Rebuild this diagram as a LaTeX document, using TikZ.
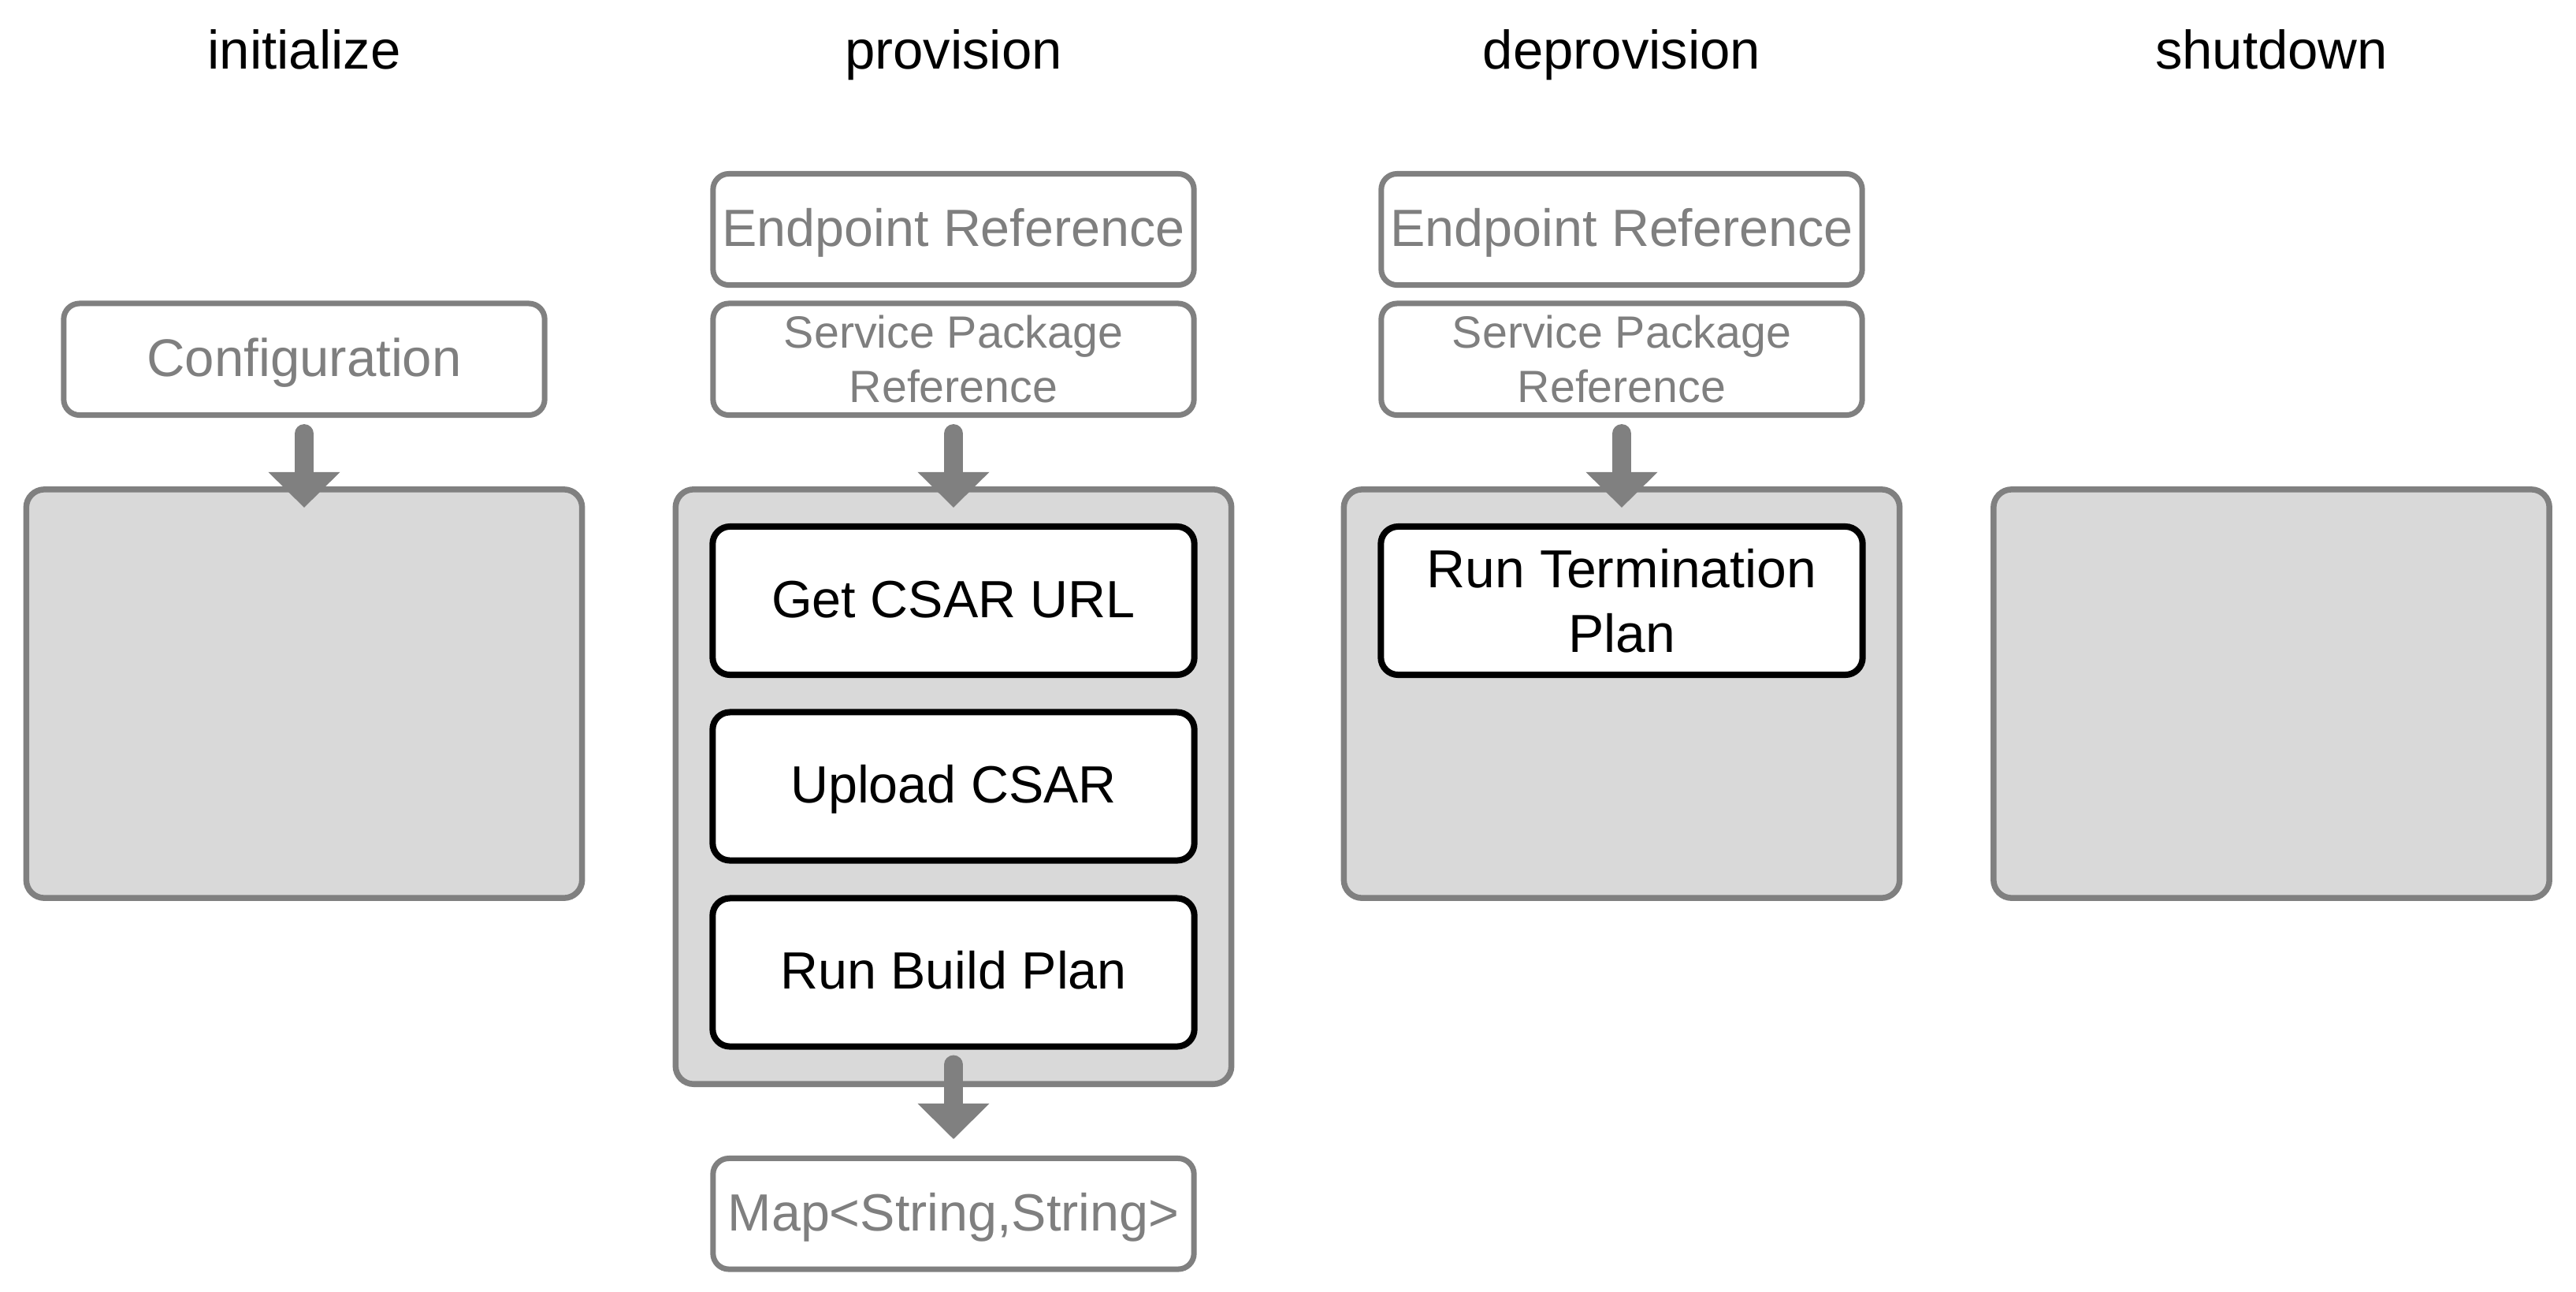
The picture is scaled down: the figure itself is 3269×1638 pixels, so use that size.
\documentclass[tikz,border=0pt]{standalone}
\usepackage{fontspec}
\setmainfont{Liberation Sans}
\usetikzlibrary{arrows.meta}
\definecolor{edge}{HTML}{808080}
\definecolor{panel}{HTML}{D9D9D9}
\definecolor{softtext}{HTML}{7F7F7F}
\begin{document}
\begin{tikzpicture}[x=0.01cm,y=-0.01cm,
  every node/.style={inner sep=0pt, outer sep=0pt},
  title/.style={anchor=base, font=\fontsize{19.6}{24}\selectfont},
  oneline/.style={text height=0.48cm, text depth=0.055cm},
  inbox/.style={draw=edge, line width=0.07cm, fill=white, rounded corners=0.2cm,
    minimum width=6.1cm, minimum height=1.41cm, text=softtext,
    font=\fontsize{18.9}{23}\selectfont, align=center},
  smallin/.style={inbox, minimum height=1.415cm, font=\fontsize{16.3}{19.6}\selectfont},
  panelbox/.style={draw=edge, line width=0.075cm, fill=panel, rounded corners=0.23cm,
    minimum width=7.05cm},
  stepbox/.style={draw=black, line width=0.08cm, fill=white, rounded corners=0.22cm,
    minimum width=6.11cm, minimum height=1.88cm,
    font=\fontsize{18.9}{23.2}\selectfont, align=center},
  flow/.style={draw=edge, line width=0.24cm, line cap=round,
    -{Triangle[width=0.91cm,length=0.45cm,line width=0pt]}},
]
\useasboundingbox (0,0) rectangle (3269,1638);

% titles
\node[title] (t1) at (386,87) {initialize};
\node[title] (t2) at (1210,87) {provision};
\node[title] (t3) at (2058,87) {deprovision};
\node[title] (t4) at (2882.5,87) {shutdown};

% initialize
\node[inbox, oneline, minimum height=1.415cm, font=\fontsize{19.1}{23}\selectfont] (cfg) at (386,455.75) {Configuration};
\node[panelbox, minimum height=5.18cm] (p1) at (386,880) {};

% provision
\node[inbox, oneline] (ep2) at (1210,291) {Endpoint Reference};
\node[smallin] (sp2) at (1210,455.75) {Service Package\\Reference};
\node[panelbox, minimum height=7.54cm] (p2) at (1210,998) {};
\node[stepbox, oneline] (s1) at (1210,762) {Get CSAR URL};
\node[stepbox, oneline] (s2) at (1210,997.5) {Upload CSAR};
\node[stepbox, oneline] (s3) at (1210,1233.5) {Run Build Plan};
\node[inbox, oneline, minimum height=1.405cm] (map) at (1210,1539.75) {Map<String,String>};

% deprovision
\node[inbox, oneline] (ep3) at (2058,291) {Endpoint Reference};
\node[smallin] (sp3) at (2058,455.75) {Service Package\\Reference};
\node[panelbox, minimum height=5.18cm] (p3) at (2058,880) {};
\node[stepbox, font=\fontsize{19.3}{23.2}\selectfont] (s4) at (2058,762) {Run Termination\\Plan};

% shutdown
\node[panelbox, minimum height=5.18cm] (p4) at (2882.5,880) {};

% connectors
\draw[flow] ([yshift=-0.235cm]cfg.south) -- ([yshift=-0.23cm]p1.north);
\draw[flow] ([yshift=-0.235cm]sp2.south) -- ([yshift=-0.23cm]p2.north);
\draw[flow] ([yshift=-0.235cm]sp3.south) -- ([yshift=-0.23cm]p3.north);
\draw[flow] ([yshift=-0.23cm]s3.south) -- ([yshift=0.245cm]map.north);
\end{tikzpicture}
\end{document}
